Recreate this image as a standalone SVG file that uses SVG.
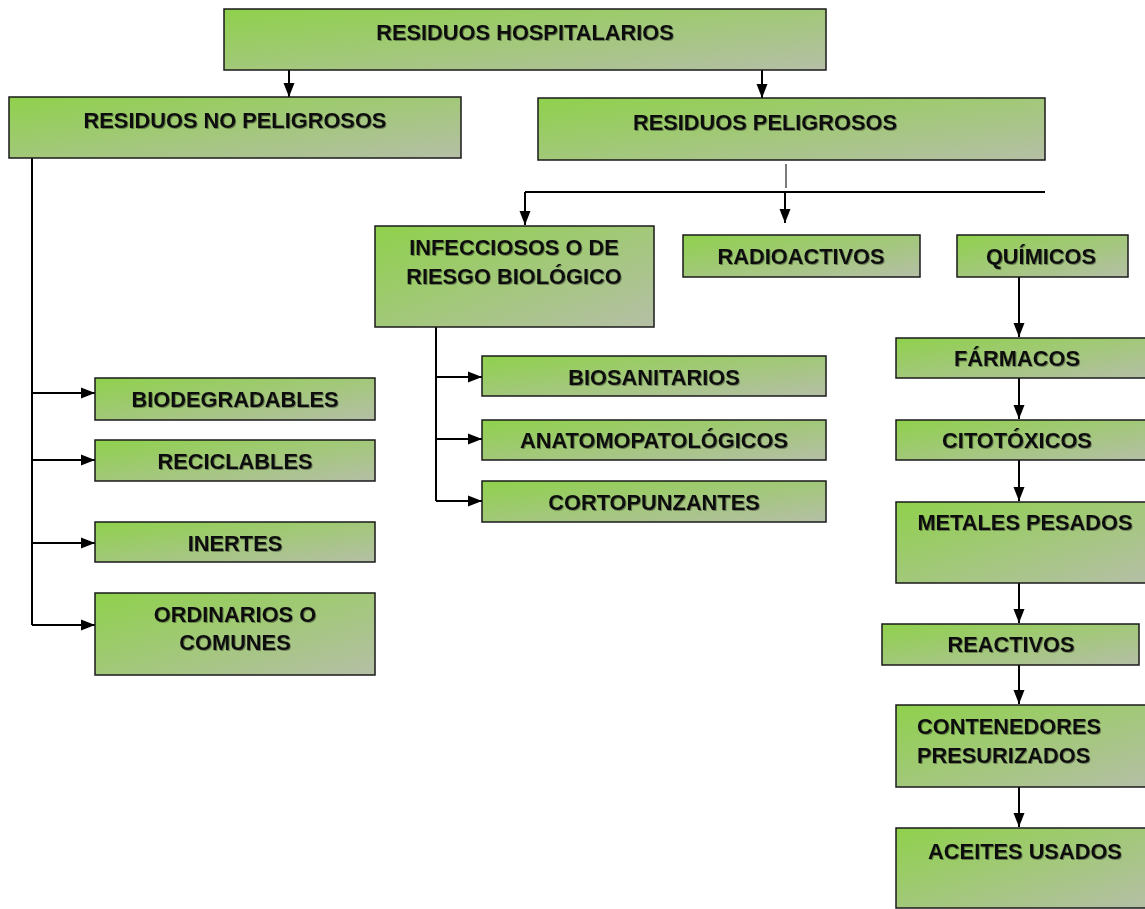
<svg xmlns="http://www.w3.org/2000/svg" width="1145" height="909" viewBox="0 0 1145 909">
<defs>
<linearGradient id="g" x1="0" y1="0" x2="1" y2="1">
<stop offset="0" stop-color="#8fd14c"/>
<stop offset="1" stop-color="#b5bfa6"/>
</linearGradient>
<marker id="ah" viewBox="0 0 14 12" refX="14" refY="6" markerWidth="14" markerHeight="12" markerUnits="userSpaceOnUse" orient="auto">
<path d="M0,0.5 L14,6 L0,11.5 z" fill="#000"/>
</marker>
<filter id="sh" x="-5%" y="-20%" width="110%" height="140%">
<feDropShadow dx="1" dy="1" stdDeviation="0.4" flood-color="#000" flood-opacity="0.35"/>
</filter>
</defs>
<style>
rect.n{fill:url(#g);stroke:#1a1a1a;stroke-width:1.5}
text{font-family:"Liberation Sans",Arial,sans-serif;font-weight:bold;font-size:21.8px;fill:#111;text-anchor:middle;filter:url(#sh)}
.c{fill:none;stroke:#000;stroke-width:2}
.a{marker-end:url(#ah)}
</style>
<rect width="1145" height="909" fill="#fff"/>
<g id="connectors">
<line class="c a" x1="289" y1="70" x2="289" y2="97"/>
<line class="c a" x1="762" y1="70" x2="762" y2="98"/>
<line x1="786" y1="164" x2="786" y2="188" stroke="#222" stroke-width="1.2"/>
<line class="c" x1="525" y1="192" x2="1045" y2="192"/>
<line class="c a" x1="525" y1="192" x2="525" y2="225"/>
<line class="c a" x1="785" y1="192" x2="785" y2="223"/>
<line class="c a" x1="1019" y1="277" x2="1019" y2="337"/>
<line class="c a" x1="1019" y1="378" x2="1019" y2="419"/>
<line class="c a" x1="1019" y1="460" x2="1019" y2="501"/>
<line class="c a" x1="1019" y1="583" x2="1019" y2="623"/>
<line class="c a" x1="1019" y1="665" x2="1019" y2="704"/>
<line class="c a" x1="1019" y1="787" x2="1019" y2="827"/>
<line class="c" x1="32" y1="158" x2="32" y2="625"/>
<line class="c a" x1="32" y1="393" x2="95" y2="393"/>
<line class="c a" x1="32" y1="460" x2="95" y2="460"/>
<line class="c a" x1="32" y1="543" x2="95" y2="543"/>
<line class="c a" x1="32" y1="625" x2="95" y2="625"/>
<line class="c" x1="436" y1="327" x2="436" y2="501"/>
<line class="c a" x1="436" y1="377" x2="482" y2="377"/>
<line class="c a" x1="436" y1="439" x2="482" y2="439"/>
<line class="c a" x1="436" y1="501" x2="482" y2="501"/>
</g>
<g id="hospitalarios"><rect class="n" x="224" y="9" width="602" height="61"/><text x="525" y="40">RESIDUOS HOSPITALARIOS</text></g>
<g id="no-peligrosos"><rect class="n" x="9" y="97" width="452" height="61"/><text x="235" y="128">RESIDUOS NO PELIGROSOS</text></g>
<g id="peligrosos"><rect class="n" x="538" y="98" width="507" height="62"/><text x="765" y="130">RESIDUOS PELIGROSOS</text></g>
<g id="infecciosos"><rect class="n" x="375" y="226" width="279" height="101"/><text x="514" y="255">INFECCIOSOS O DE</text><text x="514" y="284">RIESGO BIOLÓGICO</text></g>
<g id="radioactivos"><rect class="n" x="683" y="235" width="237" height="42"/><text x="801" y="264">RADIOACTIVOS</text></g>
<g id="quimicos"><rect class="n" x="957" y="235" width="171" height="42"/><text x="1041" y="264">QUÍMICOS</text></g>
<g id="farmacos"><rect class="n" x="896" y="338" width="252" height="40"/><text x="1017" y="366">FÁRMACOS</text></g>
<g id="citotoxicos"><rect class="n" x="896" y="420" width="252" height="40"/><text x="1017" y="448">CITOTÓXICOS</text></g>
<g id="metales"><rect class="n" x="896" y="502" width="252" height="81"/><text x="1025" y="530">METALES PESADOS</text></g>
<g id="reactivos"><rect class="n" x="882" y="624" width="257" height="41"/><text x="1011" y="652">REACTIVOS</text></g>
<g id="contenedores"><rect class="n" x="896" y="705" width="252" height="82"/><text x="917" y="734" style="text-anchor:start">CONTENEDORES</text><text x="917" y="763" style="text-anchor:start">PRESURIZADOS</text></g>
<g id="aceites"><rect class="n" x="896" y="828" width="252" height="80"/><text x="1025" y="859">ACEITES USADOS</text></g>
<g id="biodegradables"><rect class="n" x="95" y="378" width="280" height="42"/><text x="235" y="407">BIODEGRADABLES</text></g>
<g id="reciclables"><rect class="n" x="95" y="440" width="280" height="41"/><text x="235" y="469">RECICLABLES</text></g>
<g id="inertes"><rect class="n" x="95" y="522" width="280" height="40"/><text x="235" y="551">INERTES</text></g>
<g id="ordinarios"><rect class="n" x="95" y="593" width="280" height="82"/><text x="235" y="622">ORDINARIOS O</text><text x="235" y="650">COMUNES</text></g>
<g id="biosanitarios"><rect class="n" x="482" y="356" width="344" height="40"/><text x="654" y="385">BIOSANITARIOS</text></g>
<g id="anatomopatologicos"><rect class="n" x="482" y="420" width="344" height="40"/><text x="654" y="448">ANATOMOPATOLÓGICOS</text></g>
<g id="cortopunzantes"><rect class="n" x="482" y="481" width="344" height="41"/><text x="654" y="510">CORTOPUNZANTES</text></g>
</svg>
